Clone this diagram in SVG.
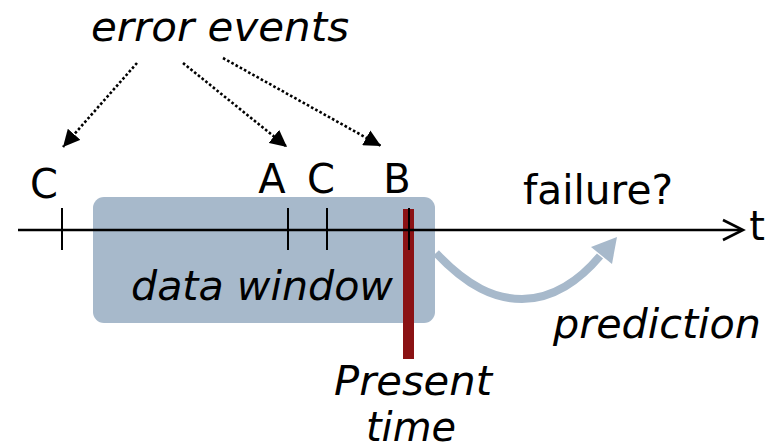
<svg xmlns="http://www.w3.org/2000/svg" width="780" height="446" viewBox="0 0 780 446">
  <style>
    text { font-family: "DejaVu Sans", Verdana, sans-serif; font-size: 40px; fill: #000; }
    .it { font-style: italic; }
    .tick { stroke: #000; stroke-width: 2; }
    .dot { stroke: #000; stroke-width: 2.6; stroke-dasharray: 2.6 2.2; fill: none; }
  </style>
  <defs>
    <marker id="tri" viewBox="0 0 10 10" refX="10" refY="5" markerWidth="6.5" markerHeight="6.5" markerUnits="strokeWidth" orient="auto">
      <path d="M0,0 L10,5 L0,10 Z" fill="#000"/>
    </marker>
  </defs>

  <!-- data window -->
  <g id="window">
    <rect x="93" y="197" width="342" height="126" rx="11" fill="#a7b9cb"/>
    <text class="it" x="262" y="300" text-anchor="middle" font-size="42" textLength="262" lengthAdjust="spacingAndGlyphs">data window</text>
  </g>

  <!-- present time marker -->
  <g id="present">
    <rect x="403" y="209" width="11" height="150" fill="#8b1214"/>
    <text class="it" x="413" y="395" text-anchor="middle" font-size="42" textLength="158" lengthAdjust="spacingAndGlyphs">Present</text>
    <text class="it" x="411" y="441" text-anchor="middle" font-size="42" textLength="90" lengthAdjust="spacingAndGlyphs">time</text>
  </g>

  <!-- time axis -->
  <g id="axis">
    <line x1="18" y1="230" x2="742" y2="230" stroke="#000" stroke-width="2.6"/>
    <polyline points="723,220 743,230 723,240" fill="none" stroke="#000" stroke-width="2.6"/>
    <text x="757" y="240" text-anchor="middle">t</text>
  </g>

  <!-- events on the axis -->
  <g id="event-c1">
    <line class="tick" x1="62" y1="208" x2="62" y2="250"/>
    <text x="44" y="198" text-anchor="middle">C</text>
  </g>
  <g id="event-a">
    <line class="tick" x1="288" y1="208" x2="288" y2="250"/>
    <text x="272" y="193" text-anchor="middle">A</text>
  </g>
  <g id="event-c2">
    <line class="tick" x1="327" y1="208" x2="327" y2="250"/>
    <text x="321" y="193" text-anchor="middle">C</text>
  </g>
  <g id="event-b">
    <line class="tick" x1="409" y1="208" x2="409" y2="250"/>
    <text x="397" y="193" text-anchor="middle">B</text>
  </g>

  <g id="error-events">
    <text class="it" x="220" y="41" text-anchor="middle" font-size="42" textLength="258" lengthAdjust="spacingAndGlyphs">error events</text>
  </g>

  <g id="failure">
    <text x="598" y="204" text-anchor="middle" font-size="41" textLength="150" lengthAdjust="spacingAndGlyphs">failure?</text>
  </g>

  <g id="prediction">
    <text class="it" x="657" y="338" text-anchor="middle" font-size="42" textLength="208" lengthAdjust="spacingAndGlyphs">prediction</text>
  </g>

  <!-- connectors -->
  <g id="connectors">
    <line class="dot" x1="137" y1="63" x2="63" y2="147" marker-end="url(#tri)"/>
    <line class="dot" x1="183" y1="63" x2="287" y2="147" marker-end="url(#tri)"/>
    <line class="dot" x1="223" y1="58" x2="381" y2="146" marker-end="url(#tri)"/>
    <path d="M436,253 C468,287 495,299 522,299 C553,299 580,280 600,256" fill="none" stroke="#a7b9cb" stroke-width="8"/>
    <polygon points="617,237 612,264 591,247" fill="#a7b9cb"/>
  </g>
</svg>
